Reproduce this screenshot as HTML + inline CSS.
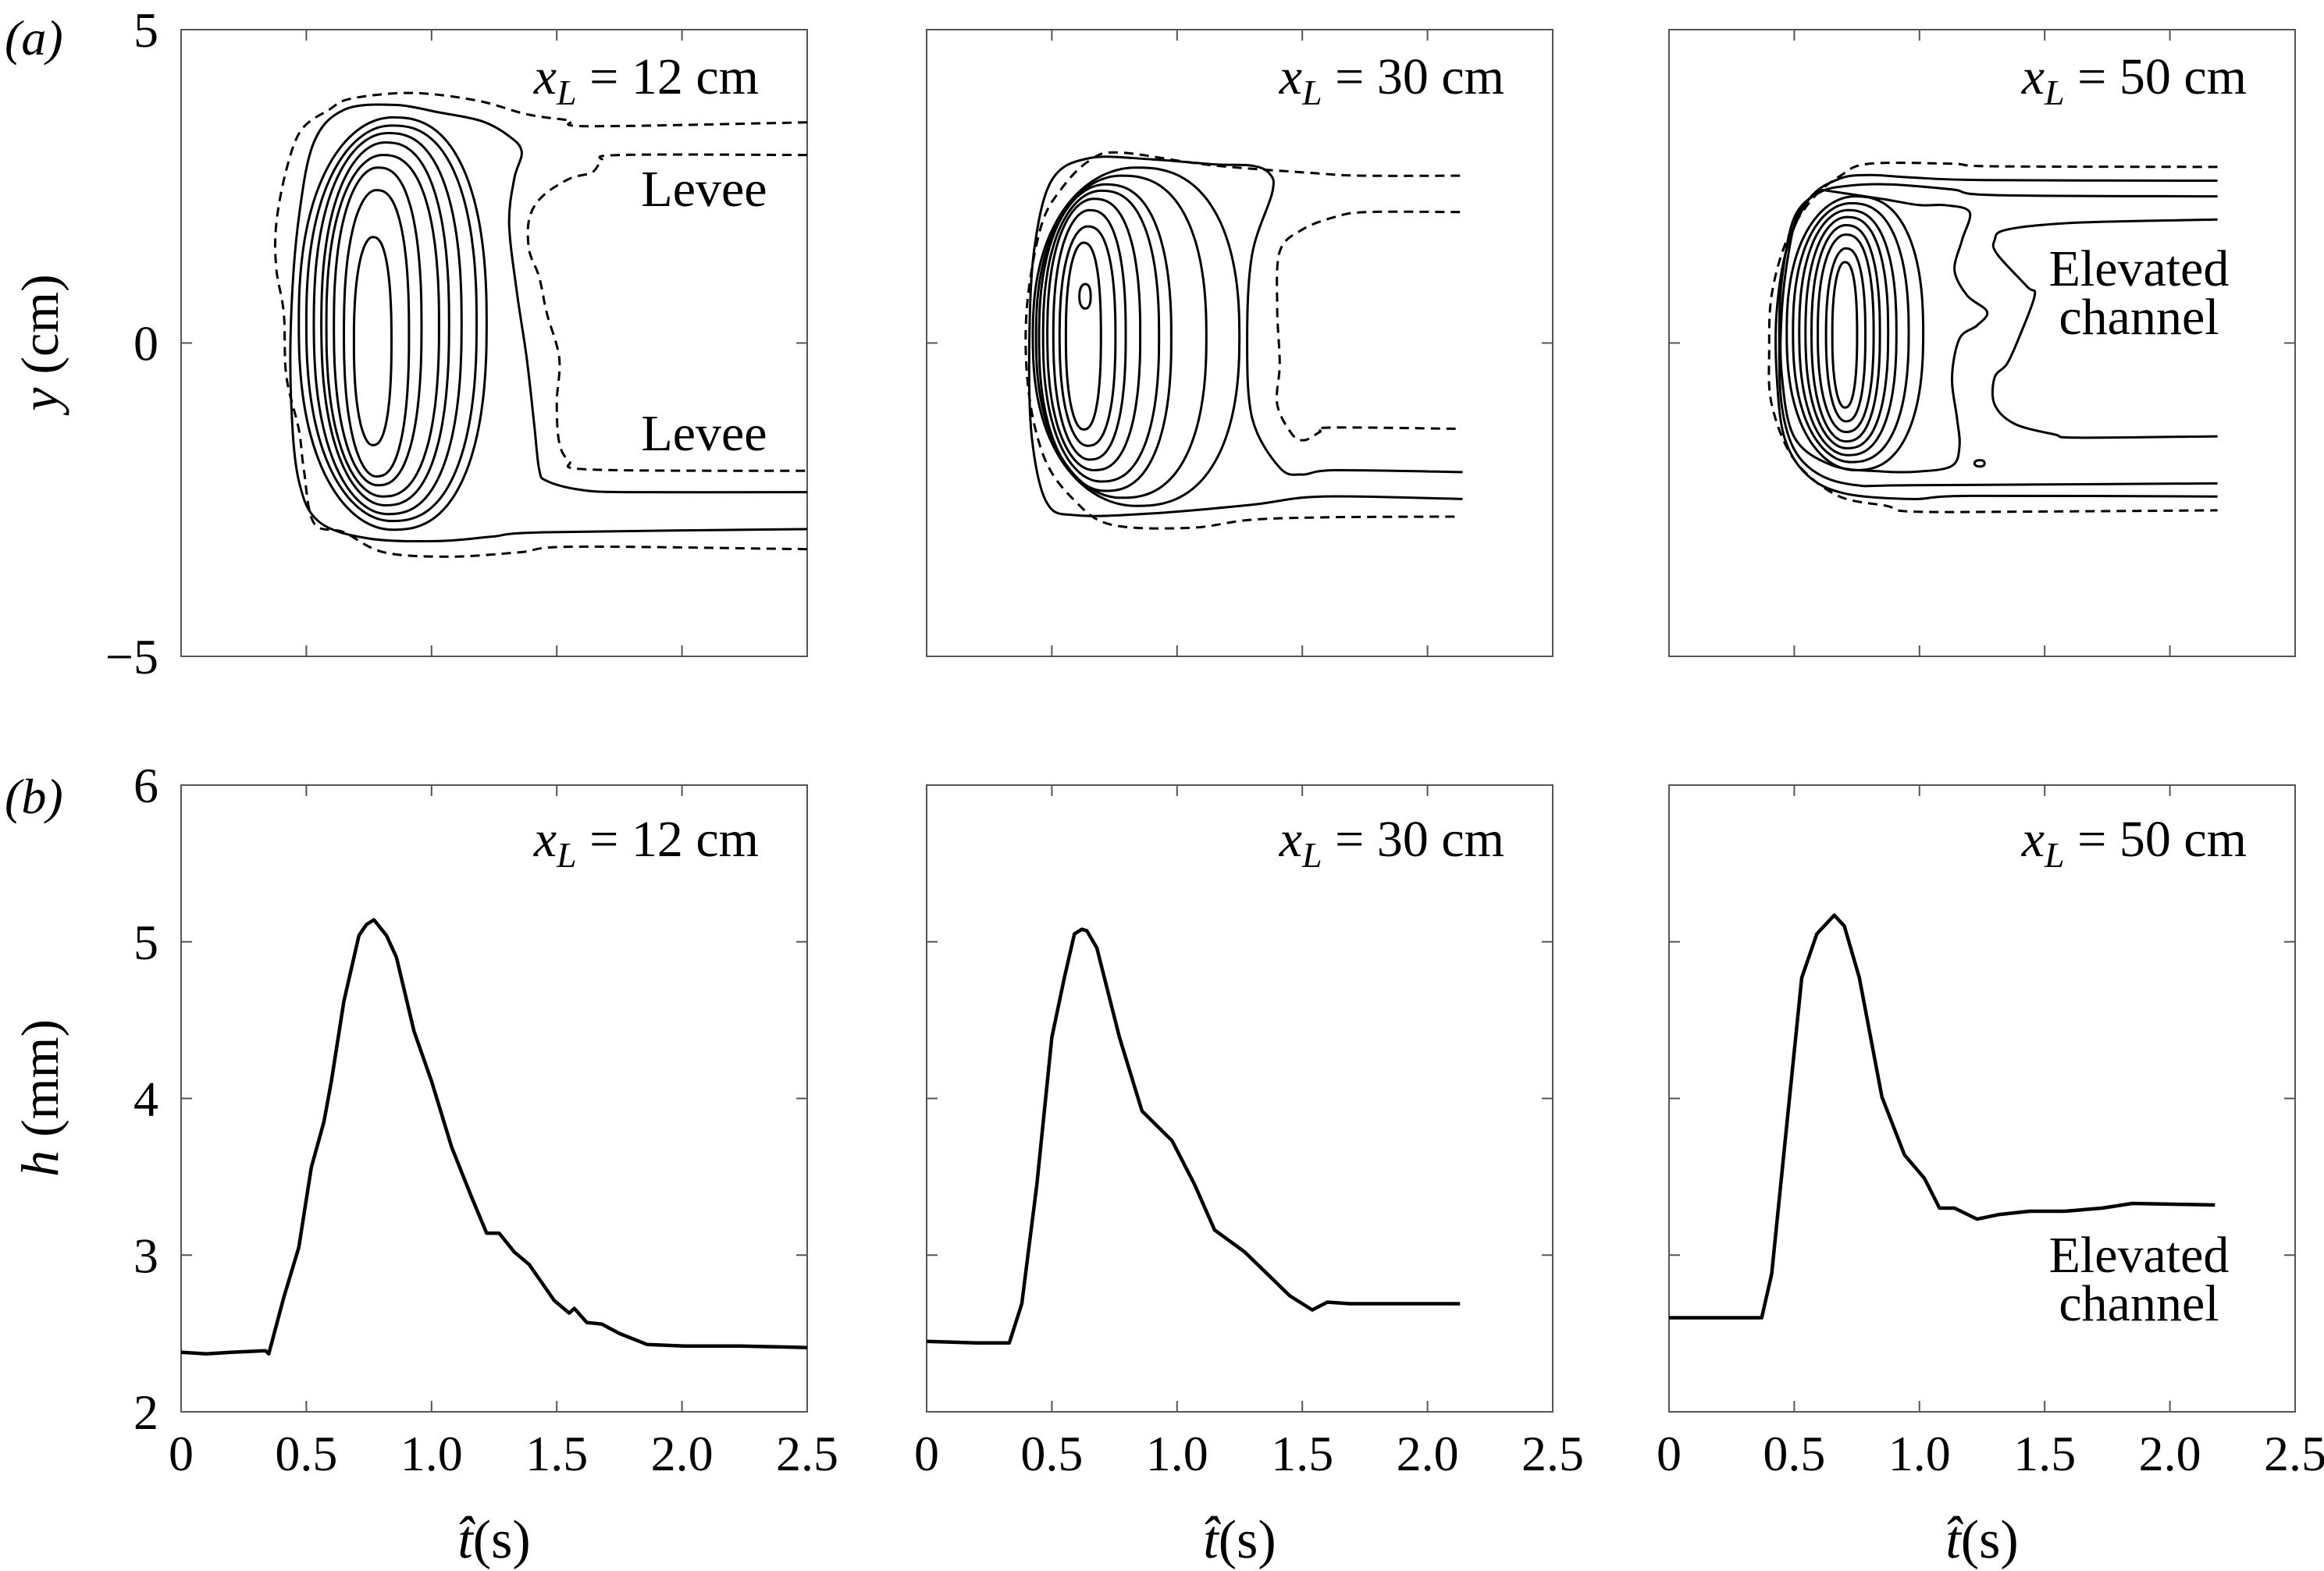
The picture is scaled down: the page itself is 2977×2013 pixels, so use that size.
<!DOCTYPE html>
<html><head><meta charset="utf-8"><style>
html,body{margin:0;padding:0;background:#fff;}
svg{display:block;font-family:"Liberation Serif",serif;}
text{font-family:"Liberation Serif",serif;}
</style></head><body>
<svg id="fig" width="2977" height="2013" viewBox="0 0 2977 2013" xmlns="http://www.w3.org/2000/svg">
<rect x="0" y="0" width="2977" height="2013" fill="#fff"/>
<text x="6" y="70" font-size="64" font-style="italic">(a)</text>
<text x="6" y="1042" font-size="64" font-style="italic">(b)</text>
<text transform="translate(74,439) rotate(-90)" text-anchor="middle" font-size="68"><tspan font-style="italic">y</tspan> (cm)</text>
<text transform="translate(74,1407) rotate(-90)" text-anchor="middle" font-size="68"><tspan font-style="italic">h</tspan> (mm)</text>
<g id="layer"></g>
</svg>
<script>
// ---- data ----
const panelX0 = [232, 1187, 2138];
const panelLabels = ["12", "30", "50"];
const xTicks = [0, 0.5, 1.0, 1.5, 2.0, 2.5];
const xTickLabels = ["0", "0.5", "1.0", "1.5", "2.0", "2.5"];
const yTicksA = [5, 0, -5];
const yTickLabelsA = ["5", "0", "\u22125"];
const yTicksB = [2, 3, 4, 5, 6];
const yTickLabelsB = ["2", "3", "4", "5", "6"];

const b1T = [0,0.1,0.2,0.337,0.35,0.41,0.47,0.52,0.57,0.60,0.65,0.71,0.74,0.77,0.82,0.86,0.93,1.0,1.08,1.16,1.22,1.27,1.33,1.39,1.49,1.55,1.57,1.62,1.68,1.75,1.86,2.01,2.23,2.5];
const b1H = [2.38,2.37,2.38,2.39,2.37,2.73,3.05,3.56,3.85,4.11,4.62,5.04,5.11,5.14,5.04,4.90,4.43,4.11,3.69,3.37,3.14,3.14,3.02,2.94,2.71,2.63,2.66,2.57,2.56,2.50,2.43,2.42,2.42,2.41];
const b2T = [0,0.2,0.33,0.38,0.44,0.50,0.55,0.59,0.62,0.64,0.68,0.77,0.86,0.98,1.07,1.15,1.27,1.36,1.45,1.54,1.60,1.69,2.13];
const b2H = [2.45,2.44,2.44,2.69,3.45,4.39,4.77,5.05,5.08,5.07,4.96,4.39,3.92,3.73,3.45,3.16,3.02,2.88,2.74,2.65,2.70,2.69,2.69];
const b3T = [0,0.2,0.37,0.41,0.47,0.53,0.59,0.66,0.70,0.76,0.85,0.94,1.02,1.08,1.14,1.23,1.32,1.44,1.58,1.73,1.85,2.18];
const b3H = [2.60,2.60,2.60,2.88,3.83,4.77,5.05,5.17,5.10,4.77,4.01,3.64,3.49,3.30,3.30,3.23,3.26,3.28,3.28,3.30,3.33,3.32];

// closed contour loops: [tLeft, tRight, yTop, yBottom]
const loopsA1 = [[0.69,0.84,1.69,-1.63],[0.65,0.91,2.44,-2.13],[0.61,0.96,2.8,-2.27],[0.58,1.03,3.0,-2.45],[0.56,1.07,3.2,-2.59],[0.53,1.12,3.35,-2.73],[0.50,1.18,3.47,-2.84],[0.47,1.22,3.6,-2.98]];
const loopsA2 = [[0.61,0.655,0.94,0.55],[0.556,0.696,1.60,-1.38],[0.531,0.754,1.86,-1.64],[0.506,0.795,2.12,-1.86],[0.482,0.853,2.30,-2.03],[0.465,0.928,2.43,-2.21],[0.449,0.977,2.53,-2.36],[0.437,1.117,2.67,-2.47],[0.424,1.249,2.80,-2.60]];
const loopsA3 = [[0.652,0.751,1.29,-1.03],[0.627,0.784,1.51,-1.25],[0.594,0.817,1.73,-1.42],[0.569,0.842,1.88,-1.57],[0.545,0.875,2.01,-1.68],[0.52,0.908,2.12,-1.79],[0.495,0.957,2.23,-1.90],[0.47,1.015,2.34,-2.03],[1.22,1.26,-1.87,-1.97]];

// open contours: [t, y] point lists
const a1Dashed1 = [[2.5,3.52],[1.63,3.46],[1.55,3.55],[1.38,3.65],[1.18,3.87],[0.92,3.99],[0.68,3.9],[0.59,3.72],[0.48,3.4],[0.42,2.76],[0.38,1.9],[0.38,1.19],[0.41,0.48],[0.42,-0.52],[0.47,-1.38],[0.49,-2.02],[0.53,-2.87],[0.65,-3.02],[0.81,-3.34],[1.07,-3.41],[1.35,-3.34],[1.57,-3.25],[2.5,-3.29]];
const a1Dashed2 = [[2.5,3.0],[1.75,3.0],[1.68,2.9],[1.64,2.72],[1.55,2.62],[1.44,2.33],[1.39,1.98],[1.39,1.48],[1.43,1.05],[1.46,0.48],[1.51,-0.24],[1.50,-0.95],[1.51,-1.59],[1.55,-1.88],[1.64,-2.02],[2.5,-2.04]];
const a1Solid1 = [[2.5,-2.97],[1.46,-3.02],[1.24,-3.09],[1.03,-3.16],[0.75,-3.12],[0.55,-2.85],[0.47,-2.2],[0.44,-1.0],[0.44,0.5],[0.47,2.0],[0.53,3.2],[0.65,3.72],[0.85,3.8],[1.03,3.68],[1.2,3.54],[1.31,3.3],[1.36,3.05],[1.33,2.62],[1.31,1.9],[1.34,0.83],[1.38,-0.24],[1.41,-1.3],[1.43,-2.02],[1.46,-2.2],[1.59,-2.34],[1.79,-2.38],[2.5,-2.38]];
const a2Dashed1 = [[2.13,2.67],[1.74,2.67],[1.55,2.71],[1.13,2.84],[0.77,3.04],[0.65,2.91],[0.54,2.47],[0.457,1.86],[0.40,0.55],[0.407,-0.77],[0.473,-1.86],[0.59,-2.51],[0.738,-2.90],[1.05,-2.95],[1.30,-2.82],[1.63,-2.78],[2.13,-2.77]];
const a2Dashed2 = [[2.13,2.09],[1.76,2.09],[1.63,2.01],[1.50,1.81],[1.41,1.46],[1.40,0.55],[1.41,-0.33],[1.40,-0.98],[1.46,-1.46],[1.51,-1.55],[1.57,-1.42],[1.61,-1.35],[2.13,-1.37]];
const a2Solid1 = [[2.14,-2.49],[1.58,-2.45],[1.30,-2.58],[0.9,-2.72],[0.6,-2.75],[0.48,-2.55],[0.42,-1.5],[0.41,0],[0.43,1.5],[0.5,2.6],[0.65,2.95],[0.9,2.93],[1.15,2.85],[1.3,2.83],[1.37,2.7],[1.38,2.4],[1.30,1.42],[1.28,0.11],[1.30,-1.2],[1.41,-1.99],[1.50,-2.1],[1.63,-2.03],[2.14,-2.06]];
const a3Dashed1 = [[2.19,2.81],[1.30,2.82],[1.13,2.86],[0.80,2.86],[0.685,2.67],[0.57,2.29],[0.47,1.64],[0.41,0.77],[0.40,-0.11],[0.41,-0.98],[0.50,-1.86],[0.67,-2.43],[0.87,-2.6],[0.97,-2.69],[1.46,-2.69],[2.19,-2.67]];
const a3SolidA = [[2.19,2.59],[1.26,2.6],[0.97,2.64],[0.80,2.68],[0.68,2.62],[0.56,2.3],[0.47,1.5],[0.43,0.5],[0.43,-0.5],[0.46,-1.5],[0.55,-2.1],[0.7,-2.4],[0.97,-2.49],[1.2,-2.44],[2.19,-2.45]];
const a3SolidB = [[2.19,2.34],[1.30,2.36],[1.13,2.45],[0.88,2.53],[0.72,2.51],[0.6,2.4],[0.5,2.0],[0.45,1.0],[0.44,0],[0.45,-1.0],[0.5,-1.7],[0.6,-2.1],[0.75,-2.27],[0.97,-2.27],[2.19,-2.24]];
const a3SolidC = [[2.19,1.97],[1.63,1.92],[1.35,1.81],[1.30,1.64],[1.31,1.42],[1.43,0.9],[1.46,0.76],[1.40,0.11],[1.35,-0.33],[1.30,-0.55],[1.30,-0.98],[1.38,-1.29],[1.54,-1.46],[1.63,-1.51],[2.19,-1.49]];
const a3SolidD = [[0.60,2.45],[0.85,2.3],[1.0,2.2],[1.1,2.2],[1.2,2.09],[1.17,1.64],[1.14,1.16],[1.19,0.76],[1.27,0.50],[1.23,0.28],[1.16,0.07],[1.13,-0.55],[1.15,-1.2],[1.16,-1.64],[1.13,-1.96],[1.0,-2.05],[0.85,-2.05],[0.65,-1.95],[0.5,-1.5],[0.45,-0.5],[0.45,0.5],[0.48,1.5],[0.52,2.1],[0.60,2.45]];

const NS = "http://www.w3.org/2000/svg";
const layer = document.getElementById("layer");
const W = 802, AY0 = 38, BY0 = 1006, H = 803;
function px(i, t) { return panelX0[i] + t / 2.5 * W; }
function pyA(y) { return AY0 + (5 - y) / 10 * H; }
function pyB(h) { return BY0 + (6 - h) / 4 * H; }
function mk(tag, attrs, parent) {
  const e = document.createElementNS(NS, tag);
  for (const k in attrs) e.setAttribute(k, attrs[k]);
  (parent || layer).appendChild(e);
  return e;
}
function smooth(pts) {
  let d = "M" + pts[0][0].toFixed(1) + "," + pts[0][1].toFixed(1);
  for (let i = 0; i < pts.length - 1; i++) {
    const p0 = pts[Math.max(0, i - 1)], p1 = pts[i], p2 = pts[i + 1], p3 = pts[Math.min(pts.length - 1, i + 2)];
    const c1x = p1[0] + (p2[0] - p0[0]) / 6, c1y = p1[1] + (p2[1] - p0[1]) / 6;
    const c2x = p2[0] - (p3[0] - p1[0]) / 6, c2y = p2[1] - (p3[1] - p1[1]) / 6;
    d += " C" + c1x.toFixed(1) + "," + c1y.toFixed(1) + " " + c2x.toFixed(1) + "," + c2y.toFixed(1) + " " + p2[0].toFixed(1) + "," + p2[1].toFixed(1);
  }
  return d;
}
function drawFrame(i, isA) {
  const x0 = panelX0[i], y0 = isA ? AY0 : BY0;
  const r = mk("rect", {x: x0, y: y0, width: W, height: H, fill: "none", stroke: "#555", "stroke-width": 2});
  
  
  xTicks.forEach((t, k) => {
    const x = px(i, t);
    if (k > 0 && k < xTicks.length - 1) {
      const tb = mk("line", {x1: x, x2: x, y1: y0 + H, y2: y0 + H - 14, stroke: "#555", "stroke-width": 2});
      
      
      const tt = mk("line", {x1: x, x2: x, y1: y0, y2: y0 + 14, stroke: "#555", "stroke-width": 2});
      
      
    }
    if (!isA) {
      const lb = mk("text", {x: x, y: 1884, "text-anchor": "middle", "font-size": 64});
      lb.textContent = xTickLabels[k];
      
      
    }
  });
  const ticks = isA ? yTicksA : yTicksB;
  const labels = isA ? yTickLabelsA : yTickLabelsB;
  ticks.forEach((v, k) => {
    const y = isA ? pyA(v) : pyB(v);
    if (y > y0 + 1 && y < y0 + H - 1) {
      const tl = mk("line", {x1: x0, x2: x0 + 14, y1: y, y2: y, stroke: "#555", "stroke-width": 2});
      
      
      const tr = mk("line", {x1: x0 + W, x2: x0 + W - 14, y1: y, y2: y, stroke: "#555", "stroke-width": 2});
      
      
    }
    if (i === 0) {
      const lb = mk("text", {x: 203, y: y + 22, "text-anchor": "end", "font-size": 64});
      lb.textContent = labels[k];
      
      
    }
  });
  const tx = mk("text", {x: x0 + W - 62, y: isA ? 120 : 1097, "text-anchor": "end", "font-size": 66});
  tx.innerHTML = '<tspan font-style="italic">x</tspan><tspan font-style="italic" font-size="46" dy="14">L</tspan><tspan dy="-14"> = ' + panelLabels[i] + ' cm</tspan>';
  
  
  if (!isA) {
    const xt = mk("text", {x: x0 + W / 2, y: 1996, "text-anchor": "middle", "font-size": 70});
    xt.innerHTML = '<tspan font-style="italic">t\u0302</tspan>(s)';
    
    
  }
}
function drawLoop(i, L) {
  const x1 = px(i, L[0]), x2 = px(i, L[1]), y1 = pyA(L[2]), y2 = pyA(L[3]);
  const cx = (x1 + x2) / 2, cy = (y1 + y2) / 2, a = (x2 - x1) / 2, b = (y2 - y1) / 2;
  const pts = [];
  for (let k = 0; k <= 72; k++) {
    const th = k / 72 * 2 * Math.PI, c = Math.cos(th), s = Math.sin(th);
    const ex = c < 0 ? 1.0 : 0.8;
    pts.push([cx + a * Math.sign(c) * Math.pow(Math.abs(c), ex), cy + b * Math.sign(s) * Math.pow(Math.abs(s), 0.85)]);
  }
  const p = mk("path", {d: smooth(pts) + "Z", fill: "none", stroke: "#000", "stroke-width": 3});
  
  
}
function drawOpen(i, P, dashed, name) {
  const pts = P.map(q => [px(i, q[0]), pyA(q[1])]);
  const attrs = {d: smooth(pts), fill: "none", stroke: "#000", "stroke-width": 3};
  if (dashed) attrs["stroke-dasharray"] = "12 8";
  const p = mk("path", attrs);
  
  
}
function drawSeries(i, T, Hs) {
  const pts = T.map((t, k) => [px(i, t), pyB(Hs[k])]);
  let d = "M" + pts.map(p => p[0].toFixed(1) + "," + p[1].toFixed(1)).join(" L");
  const p = mk("path", {d: d, fill: "none", stroke: "#000", "stroke-width": 4.5, "stroke-linejoin": "round"});
  
  
}
function label(x, y, txt, name) {
  const t = mk("text", {x: x, y: y, "text-anchor": "middle", "font-size": 66});
  t.textContent = txt;
  
  
}

for (let i = 0; i < 3; i++) { drawFrame(i, true); drawFrame(i, false); }
loopsA1.forEach(L => drawLoop(0, L));
loopsA2.forEach(L => drawLoop(1, L));
loopsA3.forEach(L => drawLoop(2, L));
drawOpen(0, a1Dashed1, true, 'outer-dashed-contour');
drawOpen(0, a1Dashed2, true, 'levee-dashed-contour');
drawOpen(0, a1Solid1, false, 'outer-solid-contour');
drawOpen(1, a2Dashed1, true, 'outer-dashed-contour');
drawOpen(1, a2Dashed2, true, 'levee-dashed-contour');
drawOpen(1, a2Solid1, false, 'outer-solid-contour');
drawOpen(2, a3Dashed1, true, 'outer-dashed-contour');
drawOpen(2, a3SolidA, false, 'outer-solid-contour');
drawOpen(2, a3SolidB, false, 'second-solid-contour');
drawOpen(2, a3SolidC, false, 'channel-solid-contour');
drawOpen(2, a3SolidD, false, 'wiggly-solid-contour');
drawSeries(0, b1T, b1H);
drawSeries(1, b2T, b2H);
drawSeries(2, b3T, b3H);
label(902, 264, "Levee", 'levee-label-top');
label(902, 577, "Levee", 'levee-label-bottom');
label(2740, 366, "Elevated", 'elevated-label-a');
label(2740, 428, "channel", 'channel-label-a');
label(2740, 1630, "Elevated", 'elevated-label-b');
label(2740, 1692, "channel", 'channel-label-b');
</script>
</body></html>
